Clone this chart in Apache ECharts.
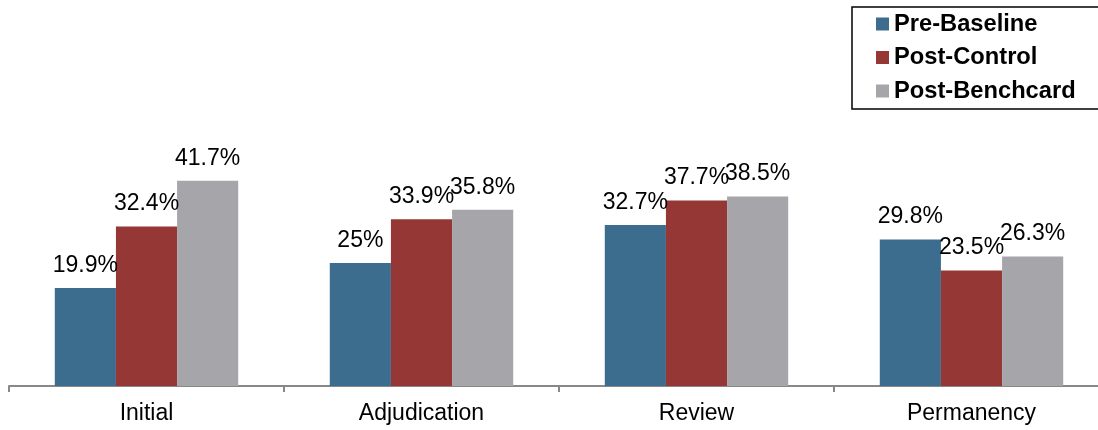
<!DOCTYPE html>
<html>
<head>
<meta charset="utf-8">
<script src="https://cdn.jsdelivr.net/npm/echarts@6/dist/echarts.min.js"></script>
<style>
  html, body { margin: 0; padding: 0; background: #fff; overflow: hidden; }
  /* canvas runs a little past the window, so the last slot is clipped at the edge */
  #chart { width: 1109px; height: 430px; }
</style>
</head>
<body>
<div id="chart"></div>
<script>
// Stage categories and percentage values per group
const categories = ['Initial', 'Adjudication', 'Review', 'Permanency'];
const seriesNames = ['Pre-Baseline', 'Post-Control', 'Post-Benchcard'];
const preBaseline = [19.9, 25, 32.7, 29.8];
const postControl = [32.4, 33.9, 37.7, 23.5];
const postBenchcard = [41.7, 35.8, 38.5, 26.3];
const colors = ['#3d6d8e', '#953735', '#a6a6aa'];

const FONT = '"Liberation Sans", Arial, sans-serif';

function barSeries(name, data, color) {
  return {
    name: name,
    type: 'bar',
    data: data,
    barGap: '0%',
    barCategoryGap: '33.3%',
    itemStyle: { color: color },
    label: {
      show: true,
      position: 'top',
      distance: 11,
      color: '#000',
      fontFamily: FONT,
      fontSize: 23,
      lineHeight: 23,
      formatter: p => p.value + '%'
    }
  };
}

const chart = echarts.init(document.getElementById('chart'), null, { renderer: 'canvas' });
chart.setOption({
  animation: false,
  backgroundColor: '#fff',
  color: colors,
  grid: { left: 9, right: 0, top: 140, bottom: 44, containLabel: false },
  legend: {
    orient: 'vertical',
    left: 852,
    top: 7,
    padding: [5, 30, 6, 24],
    borderColor: '#000',
    borderWidth: 1.5,
    icon: 'rect',
    itemWidth: 13,
    itemHeight: 13,
    itemGap: 9.5,
    textStyle: { color: '#000', fontFamily: FONT, fontSize: 23.7, fontWeight: 'bold', lineHeight: 23 },
    data: seriesNames
  },
  xAxis: {
    type: 'category',
    data: categories,
    axisLine: { lineStyle: { color: '#888', width: 2 } },
    axisTick: { show: true, length: 6, lineStyle: { color: '#888', width: 2 } },
    axisLabel: { color: '#000', fontFamily: FONT, fontSize: 23, margin: 16 }
  },
  yAxis: {
    type: 'value',
    min: 0,
    max: 50,
    show: false,
    splitLine: { show: false }
  },
  series: [
    barSeries(seriesNames[0], preBaseline, colors[0]),
    barSeries(seriesNames[1], postControl, colors[1]),
    barSeries(seriesNames[2], postBenchcard, colors[2])
  ]
});
</script>
</body>
</html>
